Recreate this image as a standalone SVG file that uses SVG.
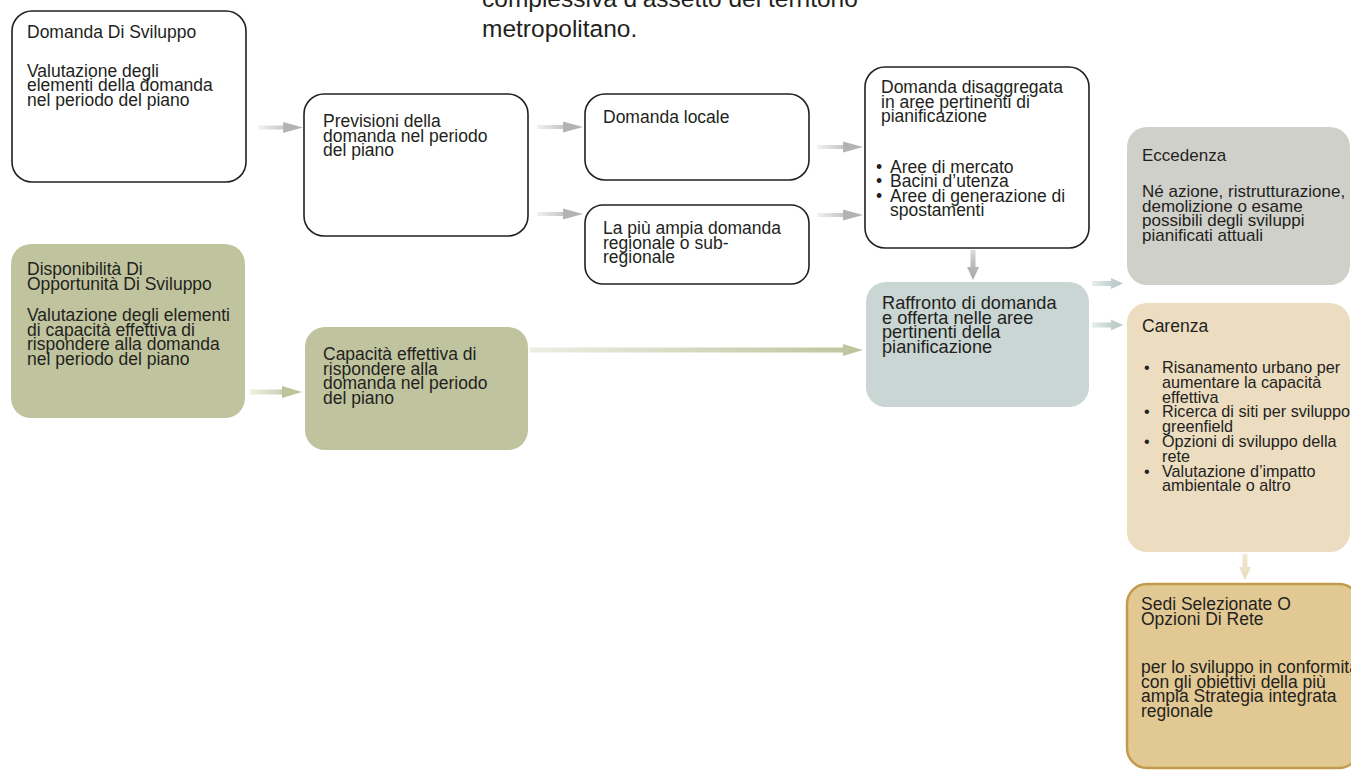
<svg xmlns="http://www.w3.org/2000/svg" width="1351" height="771" viewBox="0 0 1351 771">
<style>
  text { font-family: "Liberation Sans", Arial, sans-serif; fill: #231f20; font-size: 17.5px; }
  .head { font-size: 24.5px; }
  .s17 { font-size: 17px; }
  .s16 { font-size: 16.2px; }
  .s18 { font-size: 18.2px; }
  .wbox { fill: #ffffff; stroke: #231f20; stroke-width: 1.6; }
  .green { fill: #c0c49e; }
  .blue { fill: #c9d6d3; }
  .grey { fill: #d0d0ca; }
  .tan { fill: #ecdcc0; }
  .gold { fill: #e2c892; stroke: #c19a4c; stroke-width: 2.5; }
</style>
<defs>
  <linearGradient id="gGray" x1="0" y1="0" x2="1" y2="0">
    <stop offset="0" stop-color="#f2f2f2"/>
    <stop offset="0.55" stop-color="#c8c8c8"/>
    <stop offset="0.58" stop-color="#b3b3b3"/>
    <stop offset="1" stop-color="#b3b3b3"/>
  </linearGradient>
  <linearGradient id="gGrayV" x1="0" y1="0" x2="0" y2="1">
    <stop offset="0" stop-color="#dcdcdc"/>
    <stop offset="0.5" stop-color="#b8b8b8"/>
    <stop offset="1" stop-color="#a9a9a9"/>
  </linearGradient>
  <linearGradient id="gGreen" x1="0" y1="0" x2="1" y2="0">
    <stop offset="0" stop-color="#eef0e4"/>
    <stop offset="0.6" stop-color="#cfd2b6"/>
    <stop offset="0.62" stop-color="#bfc39c"/>
    <stop offset="1" stop-color="#bfc39c"/>
  </linearGradient>
  <linearGradient id="gGreenLong" x1="0" y1="0" x2="1" y2="0">
    <stop offset="0" stop-color="#eceee2"/>
    <stop offset="0.93" stop-color="#c2c6a2"/>
    <stop offset="1" stop-color="#bfc39c"/>
  </linearGradient>
  <linearGradient id="gBlue" x1="0" y1="0" x2="1" y2="0">
    <stop offset="0" stop-color="#e6edeb"/>
    <stop offset="0.6" stop-color="#c3d2cf"/>
    <stop offset="1" stop-color="#b3c6c3"/>
  </linearGradient>
  <linearGradient id="gTan" x1="0" y1="0" x2="0" y2="1">
    <stop offset="0" stop-color="#f3e8d6"/>
    <stop offset="1" stop-color="#ead9bb"/>
  </linearGradient>
</defs>

<g id="intro-text">
  <text class="head" x="482" y="7">complessiva d’assetto del territorio</text>
  <text class="head" x="482" y="37">metropolitano.</text>
</g>

<g id="connectors">
  <path d="M258 125.5 H283 V122 L303 127.5 L283 133 V129.5 H258 Z" fill="url(#gGray)"/>
  <path d="M537 125 H563 V121.5 L583 127 L563 132.5 V129 H537 Z" fill="url(#gGray)"/>
  <path d="M537 212 H563 V208.5 L583 214 L563 219.5 V216 H537 Z" fill="url(#gGray)"/>
  <path d="M817 145 H843 V141.5 L863 147 L843 152.5 V149 H817 Z" fill="url(#gGray)"/>
  <path d="M817 213 H843 V209.5 L863 215 L843 220.5 V217 H817 Z" fill="url(#gGray)"/>
  <path d="M970.5 250 H975.5 V267 H979 L973 280 L967 267 H970.5 Z" fill="url(#gGrayV)"/>
  <path d="M250 389.5 H282 V386 L302 392 L282 398 V394.5 H250 Z" fill="url(#gGreen)"/>
  <path d="M530 347.5 H843 V344 L863 350 L843 356 V352.5 H530 Z" fill="url(#gGreenLong)"/>
  <path d="M1092 281 H1111 V278 L1123 283.5 L1111 289 V286 H1092 Z" fill="url(#gBlue)"/>
  <path d="M1092 322.5 H1111 V319.5 L1123 325 L1111 330.5 V327.5 H1092 Z" fill="url(#gBlue)"/>
  <path d="M1242.5 554 H1247.5 V567 H1251 L1245 580 L1239 567 H1242.5 Z" fill="url(#gTan)"/>
</g>

<g id="n-domanda-sviluppo">
  <rect class="wbox" x="12" y="11" width="234" height="171" rx="20"/>
  <text x="27" y="38">Domanda Di Sviluppo</text>
  <text><tspan x="27" y="76.5">Valutazione degli</tspan><tspan x="27" y="91">elementi della domanda</tspan><tspan x="27" y="105.5">nel periodo del piano</tspan></text>
</g>

<g id="n-previsioni">
  <rect class="wbox" x="304" y="94" width="224" height="142" rx="20"/>
  <text><tspan x="323" y="127">Previsioni della</tspan><tspan x="323" y="141.5">domanda nel periodo</tspan><tspan x="323" y="156">del piano</tspan></text>
</g>

<g id="n-domanda-locale">
  <rect class="wbox" x="585" y="94" width="224" height="86" rx="20"/>
  <text x="603" y="123">Domanda locale</text>
</g>

<g id="n-domanda-regionale">
  <rect class="wbox" x="585" y="205" width="224" height="79" rx="18"/>
  <text><tspan x="603" y="234">La più ampia domanda</tspan><tspan x="603" y="248.5">regionale o sub-</tspan><tspan x="603" y="263">regionale</tspan></text>
</g>

<g id="n-domanda-disaggregata">
  <rect class="wbox" x="865" y="67" width="224" height="181" rx="20"/>
  <text><tspan x="881" y="93">Domanda disaggregata</tspan><tspan x="881" y="107.5">in aree pertinenti di</tspan><tspan x="881" y="122">pianificazione</tspan></text>
  <text><tspan x="876" y="172.5">•</tspan><tspan x="890" y="172.5">Aree di mercato</tspan><tspan x="876" y="187">•</tspan><tspan x="890" y="187">Bacini d’utenza</tspan><tspan x="876" y="201.5">•</tspan><tspan x="890" y="201.5">Aree di generazione di</tspan><tspan x="890" y="216">spostamenti</tspan></text>
</g>

<g id="n-disponibilita">
  <rect class="green" x="11" y="244" width="234" height="174" rx="20"/>
  <text><tspan x="27" y="275">Disponibilità Di</tspan><tspan x="27" y="289.5">Opportunità Di Sviluppo</tspan></text>
  <text><tspan x="27" y="321">Valutazione degli elementi</tspan><tspan x="27" y="335.5">di capacità effettiva di</tspan><tspan x="27" y="350">rispondere alla domanda</tspan><tspan x="27" y="364.5">nel periodo del piano</tspan></text>
</g>

<g id="n-capacita">
  <rect class="green" x="305" y="327" width="223" height="123" rx="20"/>
  <text><tspan x="323" y="360">Capacità effettiva di</tspan><tspan x="323" y="374.5">rispondere alla</tspan><tspan x="323" y="389">domanda nel periodo</tspan><tspan x="323" y="403.5">del piano</tspan></text>
</g>

<g id="n-raffronto">
  <rect class="blue" x="866" y="282" width="223" height="125" rx="20"/>
  <text class="s18"><tspan x="882" y="309">Raffronto di domanda</tspan><tspan x="882" y="323.5">e offerta nelle aree</tspan><tspan x="882" y="338">pertinenti della</tspan><tspan x="882" y="352.5">pianificazione</tspan></text>
</g>

<g id="n-eccedenza">
  <rect class="grey" x="1127" y="127" width="223" height="158" rx="20"/>
  <text class="s17" x="1142" y="161">Eccedenza</text>
  <text class="s17"><tspan x="1142" y="197">Né azione, ristrutturazione,</tspan><tspan x="1142" y="211.5">demolizione o esame</tspan><tspan x="1142" y="226">possibili degli sviluppi</tspan><tspan x="1142" y="240.5">pianificati attuali</tspan></text>
</g>

<g id="n-carenza">
  <rect class="tan" x="1127" y="303" width="223" height="249" rx="20"/>
  <text x="1142" y="332">Carenza</text>
  <text class="s16"><tspan x="1144" y="373">•</tspan><tspan x="1162" y="373">Risanamento urbano per</tspan><tspan x="1162" y="387.8">aumentare la capacità</tspan><tspan x="1162" y="402.6">effettiva</tspan><tspan x="1144" y="417.4">•</tspan><tspan x="1162" y="417.4">Ricerca di siti per sviluppo</tspan><tspan x="1162" y="432.2">greenfield</tspan><tspan x="1144" y="447">•</tspan><tspan x="1162" y="447">Opzioni di sviluppo della</tspan><tspan x="1162" y="461.8">rete</tspan><tspan x="1144" y="476.6">•</tspan><tspan x="1162" y="476.6">Valutazione d’impatto</tspan><tspan x="1162" y="491.4">ambientale o altro</tspan></text>
</g>

<g id="n-sedi">
  <rect class="gold" x="1127" y="584" width="232" height="184" rx="20"/>
  <text><tspan x="1141" y="610">Sedi Selezionate O</tspan><tspan x="1141" y="624.5">Opzioni Di Rete</tspan></text>
  <text><tspan x="1141" y="673">per lo sviluppo in conformità</tspan><tspan x="1141" y="687.5">con gli obiettivi della più</tspan><tspan x="1141" y="702">ampia Strategia integrata</tspan><tspan x="1141" y="716.5">regionale</tspan></text>
</g>
</svg>
